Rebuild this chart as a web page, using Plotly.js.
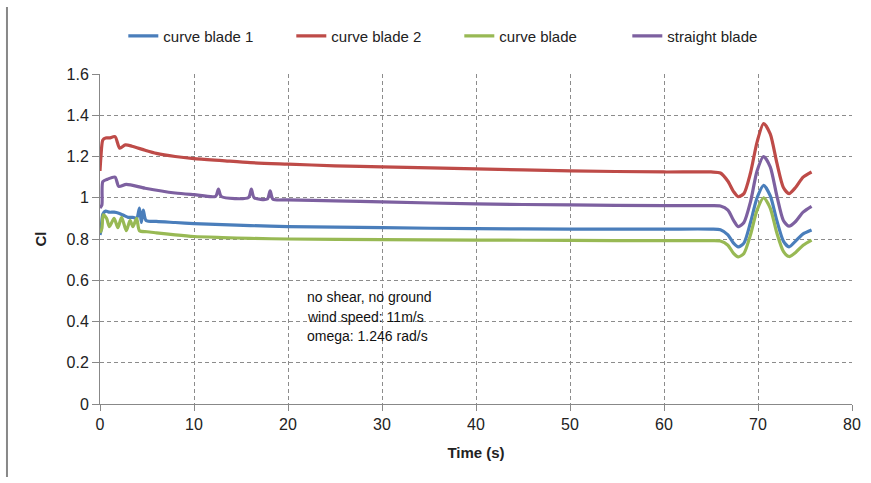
<!DOCTYPE html>
<html>
<head>
<meta charset="utf-8">
<script src="https://cdn.plot.ly/plotly-3.0.1.min.js"></script>
<style>html,body{margin:0;padding:0;background:#fff;}#chart{width:871px;height:483px;}</style>
</head>
<body>
<div id="chart"></div>
<script>
// ---- data ----
var seriesNames = ["curve blade 1", "curve blade 2", "curve blade", "straight blade"];
var seriesColors = ["#4A7EBB", "#BE4B48", "#98B954", "#7D60A0"];

var t_blade1 = [0, 0.1, 0.3, 0.6, 1.0, 1.5, 2.0, 2.5, 3.0, 3.5, 3.9, 4.2, 4.4, 4.6, 4.9, 6, 8, 10, 13, 16, 20, 25, 30, 40, 50, 60, 65, 66, 66.8, 67.4, 67.9, 68.5, 69.2, 69.9, 70.6, 71.3, 72.0, 72.7, 73.3, 74.0, 74.8, 75.7];
var y_blade1 = [0.82, 0.84, 0.92, 0.935, 0.93, 0.93, 0.925, 0.915, 0.905, 0.905, 0.90, 0.95, 0.88, 0.94, 0.89, 0.885, 0.88, 0.875, 0.87, 0.865, 0.86, 0.858, 0.855, 0.85, 0.848, 0.848, 0.848, 0.845, 0.82, 0.78, 0.762, 0.78, 0.88, 1.00, 1.06, 1.01, 0.89, 0.79, 0.762, 0.79, 0.825, 0.844];

var t_blade2 = [0, 0.1, 0.3, 0.6, 1.0, 1.6, 2.1, 2.7, 3.4, 4.8, 6, 8, 10, 13, 16, 20, 25, 30, 40, 50, 60, 65, 66, 66.8, 67.4, 67.9, 68.5, 69.2, 69.9, 70.6, 71.3, 72.0, 72.7, 73.3, 74.0, 74.8, 75.7];
var y_blade2 = [1.13, 1.20, 1.28, 1.29, 1.29, 1.296, 1.24, 1.256, 1.25, 1.23, 1.215, 1.20, 1.19, 1.18, 1.17, 1.163, 1.155, 1.15, 1.14, 1.13, 1.125, 1.125, 1.12, 1.08, 1.03, 1.005, 1.02, 1.12, 1.27, 1.36, 1.31, 1.17, 1.05, 1.02, 1.05, 1.10, 1.125];

var t_curve = [0, 0.2, 0.35, 0.7, 1.0, 1.5, 1.9, 2.3, 2.8, 3.2, 3.5, 3.9, 4.2, 5, 6, 8, 10, 13, 16, 20, 30, 40, 50, 60, 65, 66, 66.8, 67.4, 67.9, 68.5, 69.2, 69.9, 70.6, 71.3, 72.0, 72.7, 73.3, 74.0, 74.8, 75.7];
var y_curve = [0.83, 0.852, 0.917, 0.90, 0.86, 0.90, 0.855, 0.905, 0.84, 0.89, 0.86, 0.90, 0.84, 0.835, 0.83, 0.82, 0.812, 0.807, 0.803, 0.80, 0.797, 0.795, 0.793, 0.792, 0.792, 0.79, 0.77, 0.73, 0.713, 0.73, 0.82, 0.94, 1.0, 0.95, 0.83, 0.74, 0.715, 0.735, 0.77, 0.795];

var t_straight = [0, 0.2, 0.3, 0.8, 1.6, 2.0, 2.8, 4.8, 8, 10, 12.3, 12.6, 12.9, 15.8, 16.1, 16.4, 17.8, 18.1, 18.4, 20, 25, 30, 40, 50, 60, 65, 66, 66.8, 67.4, 67.9, 68.5, 69.2, 69.9, 70.6, 71.3, 72.0, 72.7, 73.3, 74.0, 74.8, 75.7];
var y_straight = [0.95, 0.965, 1.078, 1.09, 1.10, 1.055, 1.065, 1.046, 1.023, 1.015, 1.007, 1.042, 1.006, 1.001, 1.042, 1.0, 0.994, 1.034, 0.993, 0.99, 0.985, 0.98, 0.97, 0.965, 0.962, 0.962, 0.96, 0.94, 0.89, 0.86, 0.88, 0.98, 1.13, 1.20, 1.15, 1.01, 0.89, 0.862, 0.885, 0.93, 0.958];

var xTicks = [0, 10, 20, 30, 40, 50, 60, 70, 80];
var yTicks = [0, 0.2, 0.4, 0.6, 0.8, 1, 1.2, 1.4, 1.6];
var yTickLabels = ["0", "0.2", "0.4", "0.6", "0.8", "1", "1.2", "1.4", "1.6"];
var noteLines = ["no shear, no ground", "wind speed: 11m/s", "omega: 1.246 rad/s"];
var noteX = 21.8;
var noteY = [0.518, 0.422, 0.33];

// ---- build chart ----
var FONT = "'Liberation Sans', Arial, sans-serif";
var xs = [t_blade1, t_blade2, t_curve, t_straight];
var ys = [y_blade1, y_blade2, y_curve, y_straight];
var traces = seriesNames.map(function (n, i) {
  return {
    x: xs[i], y: ys[i], name: n, type: "scatter", mode: "lines",
    line: {color: seriesColors[i], width: 3.2, shape: "spline", smoothing: 0.7}
  };
});

var annotations = noteLines.map(function (txt, i) {
  return {x: noteX, y: noteY[i], xref: "x", yref: "y", text: txt, showarrow: false,
          xanchor: "left", yanchor: "middle", font: {family: FONT, size: 14, color: "#111"}};
});

var layout = {
  width: 871, height: 483,
  margin: {l: 100, r: 19, t: 74, b: 79},
  paper_bgcolor: "#fff", plot_bgcolor: "#fff",
  font: {family: FONT, size: 15, color: "#222"},
  showlegend: true,
  legend: {orientation: "h", x: 0.031, xanchor: "left", y: 1.115, yanchor: "middle",
           font: {family: FONT, size: 15, color: "#222"}, entrywidth: 123, itemwidth: 30,
           traceorder: "normal"},
  xaxis: {range: [0, 80], tickvals: xTicks, ticktext: xTicks.map(String),
          showgrid: true, gridcolor: "#8c8c8c", griddash: "4px,3px", gridwidth: 1,
          showline: true, linecolor: "#888", linewidth: 1, zeroline: false,
          ticks: "outside", ticklen: 6, tickcolor: "#888",
          tickfont: {family: FONT, size: 16, color: "#222"},
          title: {text: "<b>Time (s)</b>", font: {family: FONT, size: 15, color: "#222"}, standoff: 15}},
  yaxis: {range: [0, 1.6], tickvals: yTicks, ticktext: yTickLabels,
          showgrid: true, gridcolor: "#8c8c8c", griddash: "4px,3px", gridwidth: 1,
          showline: true, linecolor: "#888", linewidth: 1, zeroline: false,
          ticks: "outside", ticklen: 7, tickcolor: "#888",
          tickfont: {family: FONT, size: 16, color: "#222"},
          title: {text: "<b>Cl</b>", font: {family: FONT, size: 15, color: "#222"}, standoff: 16}},
  annotations: annotations,
  shapes: [{type: "line", xref: "paper", yref: "paper", x0: -0.1237, x1: -0.1237, y0: -0.221, y1: 1.203,
            line: {color: "#888", width: 2}}]
};

Plotly.newPlot("chart", traces, layout, {displayModeBar: false, staticPlot: true});
</script>
</body>
</html>
